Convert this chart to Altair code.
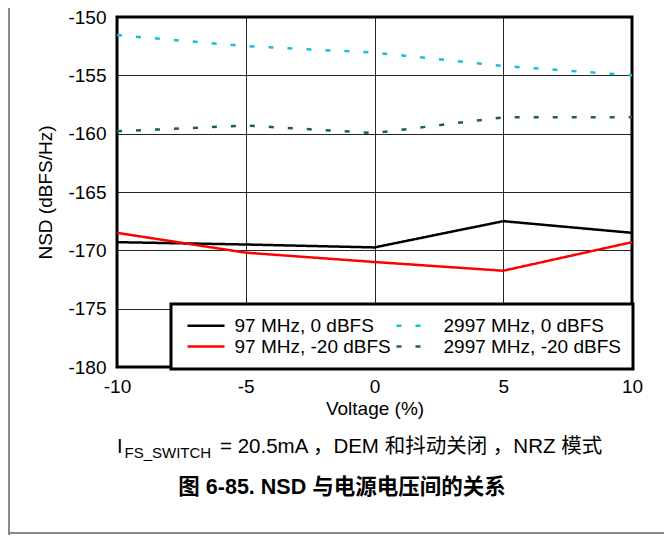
import altair as alt
import pandas as pd

# ---- data ----
voltage = [-10, -5, 0, 5, 10]
nsd_97_0 = [-169.3, -169.5, -169.75, -167.5, -168.5]
nsd_97_m20 = [-168.5, -170.2, -171.0, -171.75, -169.3]
nsd_2997_0 = [-151.55, -152.5, -153.05, -154.2, -155.0]
nsd_2997_m20 = [-159.8, -159.3, -159.95, -158.6, -158.6]

# legend fills column by column: first column 97 MHz, second 2997 MHz
series_names = ["97 MHz, 0 dBFS", "97 MHz, -20 dBFS", "2997 MHz, 0 dBFS", "2997 MHz, -20 dBFS"]
series_values = [nsd_97_0, nsd_97_m20, nsd_2997_0, nsd_2997_m20]
series_colors = ["#000000", "#ff0000", "#19bfd3", "#1b5c6b"]
series_dash = [[1, 0], [1, 0], [5, 14], [5, 14]]

x_ticks = [-10, -5, 0, 5, 10]
y_ticks = [-180, -175, -170, -165, -160, -155, -150]

caption_main = "= 20.5mA ，DEM 和抖动关闭 ，NRZ 模式"
caption_I = "I"
caption_sub = "FS_SWITCH"
figure_title = "图 6-85. NSD 与电源电压间的关系"

rows = []
for name, vals in zip(series_names, series_values):
    for v, n in zip(voltage, vals):
        rows.append({"series": name, "voltage": v, "nsd": n})
df = pd.DataFrame(rows)

W, H = 515, 350
TOP = 9
FONT = "Liberation Sans, Arial, Noto Sans CJK SC"

legend = alt.Legend(
    title=None, orient="none", legendX=54, legendY=287, columns=2,
    symbolType="M-3.7,0H3.7", symbolSize=100, symbolStrokeWidth=2.5,
    symbolOffset=13.5, labelOffset=19, labelFontSize=19, labelFont=FONT,
    labelColor="black", padding=12, rowPadding=1, columnPadding=0,
    fillColor="white", strokeColor="black", labelLimit=400,
)

lines = alt.Chart(df).mark_line(strokeWidth=2.5).encode(
    x=alt.X("voltage:Q", title="Voltage (%)",
            scale=alt.Scale(domain=[-10, 10], nice=False),
            axis=alt.Axis(values=x_ticks, labelExpr="'' + datum.value", labelFlush=False)),
    y=alt.Y("nsd:Q", title="NSD (dBFS/Hz)",
            scale=alt.Scale(domain=[-180, -150], nice=False),
            axis=alt.Axis(values=y_ticks, labelExpr="'' + datum.value")),
    color=alt.Color("series:N", scale=alt.Scale(domain=series_names, range=series_colors), legend=legend),
    strokeDash=alt.StrokeDash("series:N", scale=alt.Scale(domain=series_names, range=series_dash), legend=legend),
    detail="series:N",
)

one = pd.DataFrame({"k": [0]})

frame_v = alt.Chart(one).mark_rule(color="#8a8a8a", strokeWidth=2).encode(
    x=alt.value(-108), y=alt.value(-TOP), y2=alt.value(527 - TOP))
frame_h = alt.Chart(one).mark_rule(color="#8a8a8a", strokeWidth=2).encode(
    x=alt.value(-109), x2=alt.value(547), y=alt.value(525 - TOP))

cap_I = alt.Chart(pd.DataFrame({"t": [caption_I]})).mark_text(
    font=FONT, fontSize=20, align="left", baseline="alphabetic", color="black").encode(
    text="t:N", x=alt.value(0), y=alt.value(445 - TOP))
cap_sub = alt.Chart(pd.DataFrame({"t": [caption_sub]})).mark_text(
    font=FONT, fontSize=15, align="left", baseline="alphabetic", color="black").encode(
    text="t:N", x=alt.value(7.5), y=alt.value(450 - TOP))
cap_main = alt.Chart(pd.DataFrame({"t": [caption_main]})).mark_text(
    font=FONT, fontSize=20.5, align="left",
    baseline="alphabetic", color="black").encode(
    text="t:N", x=alt.value(103), y=alt.value(445 - TOP))
fig_title = alt.Chart(pd.DataFrame({"t": [figure_title]})).mark_text(
    font=FONT, fontSize=21.5, fontWeight="bold", align="center",
    baseline="alphabetic", color="black").encode(
    text="t:N", x=alt.value(225), y=alt.value(486 - TOP))

chart = alt.layer(lines, frame_v, frame_h, cap_I, cap_sub, cap_main, fig_title).properties(
    width=W, height=H,
    autosize=alt.AutoSizeParams(type="none"),
    padding={"left": 109, "top": TOP, "right": 32, "bottom": 527 - TOP - H},
    background="white",
).configure_view(
    stroke="black", strokeWidth=3
).configure_axis(
    labelFont=FONT, labelFontSize=19, labelColor="black",
    titleFont=FONT, titleFontSize=19, titleColor="black", titleFontWeight="normal",
    ticks=False, domain=False, grid=True, gridColor="black", gridWidth=1, gridOpacity=0.85,
).configure_axisX(
    labelPadding=10, titlePadding=3,
).configure_axisY(
    labelPadding=11, titlePadding=12,
).configure_legend(
    strokeWidth=3,
)

chart.save("out.html", embed_options={"renderer": "svg", "actions": False})
